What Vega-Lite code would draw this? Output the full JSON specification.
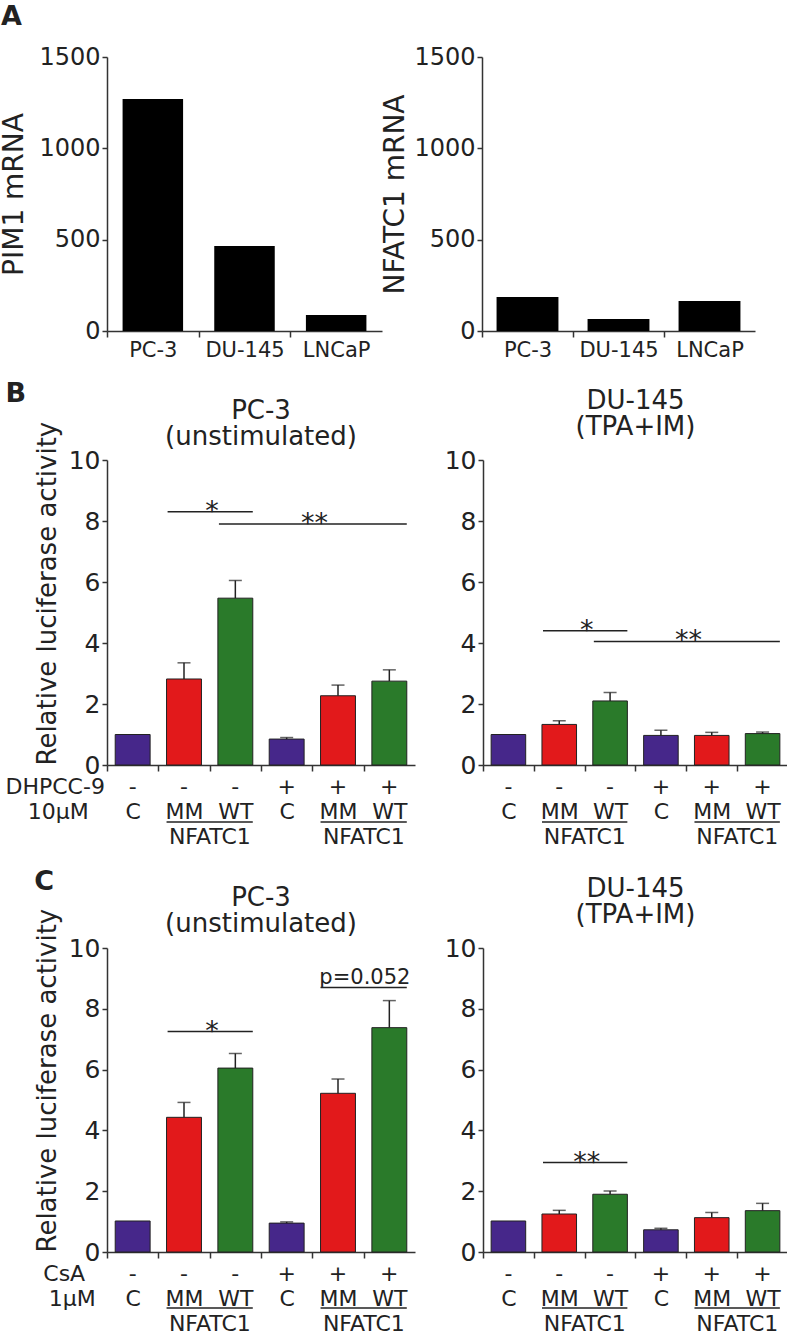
{
  "$schema": "https://vega.github.io/schema/vega-lite/v6.json",
  "background": "white",
  "padding": {"top": 3, "left": 0, "right": 0, "bottom": 0},
  "spacing": 20,
  "datasets": {
    "a1": [{"cell": "PC-3", "mrna": 1270}, {"cell": "DU-145", "mrna": 465}, {"cell": "LNCaP", "mrna": 88}],
    "a2": [{"cell": "PC-3", "mrna": 186}, {"cell": "DU-145", "mrna": 66}, {"cell": "LNCaP", "mrna": 164}],
    "bL": [
      {"id": "C-", "grp": "C", "sign": "-", "v": 1.0},
      {"id": "MM-", "grp": "MM", "sign": "-", "v": 2.82, "hi": 3.35},
      {"id": "WT-", "grp": "WT", "sign": "-", "v": 5.47, "hi": 6.05},
      {"id": "C+", "grp": "C", "sign": "+", "v": 0.85, "hi": 0.9},
      {"id": "MM+", "grp": "MM", "sign": "+", "v": 2.27, "hi": 2.62},
      {"id": "WT+", "grp": "WT", "sign": "+", "v": 2.75, "hi": 3.12}
    ],
    "bR": [
      {"id": "C-", "grp": "C", "sign": "-", "v": 1.0},
      {"id": "MM-", "grp": "MM", "sign": "-", "v": 1.33, "hi": 1.45},
      {"id": "WT-", "grp": "WT", "sign": "-", "v": 2.1, "hi": 2.38},
      {"id": "C+", "grp": "C", "sign": "+", "v": 0.97, "hi": 1.14},
      {"id": "MM+", "grp": "MM", "sign": "+", "v": 0.97, "hi": 1.07},
      {"id": "WT+", "grp": "WT", "sign": "+", "v": 1.03, "hi": 1.08}
    ],
    "cL": [
      {"id": "C-", "grp": "C", "sign": "-", "v": 1.02},
      {"id": "MM-", "grp": "MM", "sign": "-", "v": 4.43, "hi": 4.92},
      {"id": "WT-", "grp": "WT", "sign": "-", "v": 6.05, "hi": 6.53},
      {"id": "C+", "grp": "C", "sign": "+", "v": 0.95, "hi": 0.99},
      {"id": "MM+", "grp": "MM", "sign": "+", "v": 5.22, "hi": 5.69},
      {"id": "WT+", "grp": "WT", "sign": "+", "v": 7.38, "hi": 8.27}
    ],
    "cR": [
      {"id": "C-", "grp": "C", "sign": "-", "v": 1.02},
      {"id": "MM-", "grp": "MM", "sign": "-", "v": 1.25, "hi": 1.37},
      {"id": "WT-", "grp": "WT", "sign": "-", "v": 1.9, "hi": 2.01},
      {"id": "C+", "grp": "C", "sign": "+", "v": 0.73, "hi": 0.78},
      {"id": "MM+", "grp": "MM", "sign": "+", "v": 1.13, "hi": 1.3},
      {"id": "WT+", "grp": "WT", "sign": "+", "v": 1.36, "hi": 1.6}
    ],
    "bLs": [{"x1": "MM-", "x2": "WT-", "xc": "WT-", "y": 8.3, "t": "*"}, {"x1": "WT-", "x2": "WT+", "xc": "MM+", "y": 7.9, "t": "**"}],
    "bRs": [{"x1": "MM-", "x2": "WT-", "xc": "WT-", "y": 4.4, "t": "*"}, {"x1": "WT-", "x2": "WT+", "xc": "MM+", "y": 4.05, "t": "**"}],
    "cLs": [{"x1": "MM-", "x2": "WT-", "xc": "WT-", "y": 7.25, "t": "*"}],
    "cLp": [{"x1": "MM+", "x2": "WT+", "xc": "WT+", "y": 8.7, "t": "p=0.052"}],
    "cRs": [{"x1": "MM-", "x2": "WT-", "xc": "WT-", "y": 2.94, "t": "**"}],
    "grpLabel": [{"xc": "WT-", "t": "NFATC1"}, {"xc": "WT+", "t": "NFATC1"}],
    "grpLine": [{"x1": "MM-", "x2": "WT-"}, {"x1": "MM+", "x2": "WT+"}],
    "rowB": [{"xc": "C-", "t1": "DHPCC-9", "t2": "10μM"}],
    "rowC": [{"xc": "C-", "t1": "CsA", "t2": "1μM"}]
  },
  "vconcat": [
    {
      "title": {"text": "A", "anchor": "start", "frame": "bounds", "fontSize": 27, "fontWeight": "bold", "offset": 14},
      "spacing": -1,
      "hconcat": [
        {
          "width": 275, "height": 274,
          "data": {"name": "a1"},
          "mark": {"type": "bar", "color": "#000"},
          "encoding": {
            "x": {"field": "cell", "type": "nominal", "sort": null, "scale": {"paddingInner": 0.34, "paddingOuter": 0.17},
                  "axis": {"title": null, "labelAngle": 0, "labelFontSize": 21, "tickSize": 6, "labelPadding": 2, "tickOffset": -45.8, "labelOffset": 45.8}},
            "y": {"field": "mrna", "type": "quantitative", "scale": {"domain": [0, 1500]},
                  "axis": {"values": [0, 500, 1000, 1500], "format": "d", "title": "PIM1 mRNA", "titleFontSize": 28, "labelFontSize": 24, "tickSize": 5, "labelPadding": 2, "titlePadding": 10}}
          }
        },
        {
          "width": 273, "height": 274,
          "data": {"name": "a2"},
          "mark": {"type": "bar", "color": "#000"},
          "encoding": {
            "x": {"field": "cell", "type": "nominal", "sort": null, "scale": {"paddingInner": 0.32, "paddingOuter": 0.16},
                  "axis": {"title": null, "labelAngle": 0, "labelFontSize": 21, "tickSize": 6, "labelPadding": 2, "tickOffset": -45.5, "labelOffset": 45.5}},
            "y": {"field": "mrna", "type": "quantitative", "scale": {"domain": [0, 1500]},
                  "axis": {"values": [0, 500, 1000, 1500], "format": "d", "title": "NFATC1 mRNA", "titleFontSize": 28, "labelFontSize": 24, "tickSize": 5, "labelPadding": 2, "titlePadding": 4}}
          }
        }
      ]
    },
    {
      "title": {"text": "B", "anchor": "start", "frame": "bounds", "fontSize": 27, "fontWeight": "bold", "offset": 0, "dy": 20},
      "spacing": 29,
      "hconcat": [
        {
          "width": 308, "height": 305,
          "title": {"text": "PC-3", "subtitle": "(unstimulated)", "anchor": "middle", "fontSize": 26, "subtitleFontSize": 26, "subtitleColor": "#222", "subtitleFont": "DejaVu Sans", "subtitlePadding": 0, "offset": -29},
          "layer": [
            {
              "data": {"name": "bL"},
              "mark": {"type": "bar", "stroke": "#222", "strokeWidth": 1},
              "encoding": {
                "x": {"field": "id", "type": "nominal", "sort": null, "scale": {"domain": ["C-", "MM-", "WT-", "C+", "MM+", "WT+"], "paddingInner": 0.32, "paddingOuter": 0.16},
                      "axis": {"title": null, "labelAngle": 0, "labelFontSize": 22, "labelPadding": 30, "tickSize": 6, "tickOffset": -25.67, "labelOffset": 25.67,
                               "labelExpr": "substring(datum.value, 0, length(datum.value) - 1)"}},
                "y": {"field": "v", "type": "quantitative", "scale": {"domain": [0, 10]},
                      "axis": {"values": [0, 2, 4, 6, 8, 10], "title": "Relative luciferase activity", "titleFontSize": 26, "titleAnchor": "start", "titlePadding": 8, "labelFontSize": 25, "tickSize": 5, "labelPadding": 2}},
                "color": {"field": "grp", "type": "nominal", "scale": {"domain": ["C", "MM", "WT"], "range": ["#46278A", "#E2191B", "#2A7A2A"]}, "legend": null}
              }
            },
            {
              "data": {"name": "bL"},
              "transform": [{"filter": "isValid(datum.hi)"}],
              "mark": {"type": "rule", "color": "#222", "strokeWidth": 1.5},
              "encoding": {"x": {"field": "id", "type": "nominal"}, "y": {"field": "v", "type": "quantitative"}, "y2": {"field": "hi"}}
            },
            {
              "data": {"name": "bL"},
              "transform": [{"filter": "isValid(datum.hi)"}],
              "mark": {"type": "tick", "color": "#222", "thickness": 1.5, "size": 13},
              "encoding": {"x": {"field": "id", "type": "nominal"}, "y": {"field": "hi", "type": "quantitative"}}
            },
            {
              "data": {"name": "bL"},
              "mark": {"type": "text", "fontSize": 22, "baseline": "middle", "dy": 22},
              "encoding": {"x": {"field": "id", "type": "nominal"}, "y": {"datum": 0}, "text": {"field": "sign"}}
            },
            {
              "data": {"name": "bLs"},
              "mark": {"type": "rule", "color": "#222", "strokeWidth": 1.5},
              "encoding": {"x": {"field": "x1", "type": "nominal", "bandPosition": 0.03}, "x2": {"field": "x2", "bandPosition": 1}, "y": {"field": "y", "type": "quantitative"}}
            },
            {
              "data": {"name": "bLs"},
              "mark": {"type": "text", "fontSize": 27, "baseline": "alphabetic", "dy": 8, "dx": -6},
              "encoding": {"x": {"field": "xc", "type": "nominal", "bandPosition": 0}, "y": {"field": "y", "type": "quantitative"}, "text": {"field": "t"}}
            },
            {
              "data": {"name": "grpLabel"},
              "mark": {"type": "text", "fontSize": 22, "baseline": "middle", "dy": 72, "dx": -8},
              "encoding": {"x": {"field": "xc", "type": "nominal", "bandPosition": 0}, "y": {"datum": 0}, "text": {"field": "t"}}
            },
            {
              "data": {"name": "grpLine"},
              "mark": {"type": "rule", "color": "#222", "strokeWidth": 1.5, "yOffset": 57},
              "encoding": {"x": {"field": "x1", "type": "nominal", "bandPosition": 0}, "x2": {"field": "x2", "bandPosition": 1}, "y": {"datum": 0}}
            },
            {
              "data": {"name": "rowB"},
              "mark": {"type": "text", "fontSize": 22, "baseline": "middle", "dy": 22, "dx": -60},
              "encoding": {"x": {"field": "xc", "type": "nominal", "bandPosition": 0}, "y": {"datum": 0}, "text": {"field": "t1"}}
            },
            {
              "data": {"name": "rowB"},
              "mark": {"type": "text", "fontSize": 22, "baseline": "middle", "dy": 47, "dx": -57},
              "encoding": {"x": {"field": "xc", "type": "nominal", "bandPosition": 0}, "y": {"datum": 0}, "text": {"field": "t2"}}
            }
          ]
        },
        {
          "width": 305, "height": 305,
          "title": {"text": "DU-145", "subtitle": "(TPA+IM)", "anchor": "middle", "fontSize": 26, "subtitleFontSize": 26, "subtitleColor": "#222", "subtitleFont": "DejaVu Sans", "subtitlePadding": 0, "offset": 8},
          "layer": [
            {
              "data": {"name": "bR"},
              "mark": {"type": "bar", "stroke": "#222", "strokeWidth": 1},
              "encoding": {
                "x": {"field": "id", "type": "nominal", "sort": null, "scale": {"domain": ["C-", "MM-", "WT-", "C+", "MM+", "WT+"], "paddingInner": 0.32, "paddingOuter": 0.16},
                      "axis": {"title": null, "labelAngle": 0, "labelFontSize": 22, "labelPadding": 30, "tickSize": 6, "tickOffset": -25.42, "labelOffset": 25.42,
                               "labelExpr": "substring(datum.value, 0, length(datum.value) - 1)"}},
                "y": {"field": "v", "type": "quantitative", "scale": {"domain": [0, 10]},
                      "axis": {"values": [0, 2, 4, 6, 8, 10], "title": null, "labelFontSize": 25, "tickSize": 5, "labelPadding": 2}},
                "color": {"field": "grp", "type": "nominal", "scale": {"domain": ["C", "MM", "WT"], "range": ["#46278A", "#E2191B", "#2A7A2A"]}, "legend": null}
              }
            },
            {
              "data": {"name": "bR"},
              "transform": [{"filter": "isValid(datum.hi)"}],
              "mark": {"type": "rule", "color": "#222", "strokeWidth": 1.5},
              "encoding": {"x": {"field": "id", "type": "nominal"}, "y": {"field": "v", "type": "quantitative"}, "y2": {"field": "hi"}}
            },
            {
              "data": {"name": "bR"},
              "transform": [{"filter": "isValid(datum.hi)"}],
              "mark": {"type": "tick", "color": "#222", "thickness": 1.5, "size": 13},
              "encoding": {"x": {"field": "id", "type": "nominal"}, "y": {"field": "hi", "type": "quantitative"}}
            },
            {
              "data": {"name": "bR"},
              "mark": {"type": "text", "fontSize": 22, "baseline": "middle", "dy": 22},
              "encoding": {"x": {"field": "id", "type": "nominal"}, "y": {"datum": 0}, "text": {"field": "sign"}}
            },
            {
              "data": {"name": "bRs"},
              "mark": {"type": "rule", "color": "#222", "strokeWidth": 1.5},
              "encoding": {"x": {"field": "x1", "type": "nominal", "bandPosition": 0.03}, "x2": {"field": "x2", "bandPosition": 1}, "y": {"field": "y", "type": "quantitative"}}
            },
            {
              "data": {"name": "bRs"},
              "mark": {"type": "text", "fontSize": 27, "baseline": "alphabetic", "dy": 8, "dx": -6},
              "encoding": {"x": {"field": "xc", "type": "nominal", "bandPosition": 0}, "y": {"field": "y", "type": "quantitative"}, "text": {"field": "t"}}
            },
            {
              "data": {"name": "grpLabel"},
              "mark": {"type": "text", "fontSize": 22, "baseline": "middle", "dy": 72, "dx": -8},
              "encoding": {"x": {"field": "xc", "type": "nominal", "bandPosition": 0}, "y": {"datum": 0}, "text": {"field": "t"}}
            },
            {
              "data": {"name": "grpLine"},
              "mark": {"type": "rule", "color": "#222", "strokeWidth": 1.5, "yOffset": 57},
              "encoding": {"x": {"field": "x1", "type": "nominal", "bandPosition": 0}, "x2": {"field": "x2", "bandPosition": 1}, "y": {"datum": 0}}
            }
          ]
        }
      ]
    },
    {
      "title": {"text": "C", "anchor": "start", "frame": "bounds", "fontSize": 27, "fontWeight": "bold", "offset": 0, "dy": 20},
      "spacing": 29,
      "hconcat": [
        {
          "width": 308, "height": 304,
          "title": {"text": "PC-3", "subtitle": "(unstimulated)", "anchor": "middle", "fontSize": 26, "subtitleFontSize": 26, "subtitleColor": "#222", "subtitleFont": "DejaVu Sans", "subtitlePadding": 0, "offset": -29},
          "layer": [
            {
              "data": {"name": "cL"},
              "mark": {"type": "bar", "stroke": "#222", "strokeWidth": 1},
              "encoding": {
                "x": {"field": "id", "type": "nominal", "sort": null, "scale": {"domain": ["C-", "MM-", "WT-", "C+", "MM+", "WT+"], "paddingInner": 0.32, "paddingOuter": 0.16},
                      "axis": {"title": null, "labelAngle": 0, "labelFontSize": 22, "labelPadding": 30, "tickSize": 6, "tickOffset": -25.67, "labelOffset": 25.67,
                               "labelExpr": "substring(datum.value, 0, length(datum.value) - 1)"}},
                "y": {"field": "v", "type": "quantitative", "scale": {"domain": [0, 10]},
                      "axis": {"values": [0, 2, 4, 6, 8, 10], "title": "Relative luciferase activity", "titleFontSize": 26, "titleAnchor": "start", "titlePadding": 8, "labelFontSize": 25, "tickSize": 5, "labelPadding": 2}},
                "color": {"field": "grp", "type": "nominal", "scale": {"domain": ["C", "MM", "WT"], "range": ["#46278A", "#E2191B", "#2A7A2A"]}, "legend": null}
              }
            },
            {
              "data": {"name": "cL"},
              "transform": [{"filter": "isValid(datum.hi)"}],
              "mark": {"type": "rule", "color": "#222", "strokeWidth": 1.5},
              "encoding": {"x": {"field": "id", "type": "nominal"}, "y": {"field": "v", "type": "quantitative"}, "y2": {"field": "hi"}}
            },
            {
              "data": {"name": "cL"},
              "transform": [{"filter": "isValid(datum.hi)"}],
              "mark": {"type": "tick", "color": "#222", "thickness": 1.5, "size": 13},
              "encoding": {"x": {"field": "id", "type": "nominal"}, "y": {"field": "hi", "type": "quantitative"}}
            },
            {
              "data": {"name": "cL"},
              "mark": {"type": "text", "fontSize": 22, "baseline": "middle", "dy": 22},
              "encoding": {"x": {"field": "id", "type": "nominal"}, "y": {"datum": 0}, "text": {"field": "sign"}}
            },
            {
              "data": {"name": "cLs"},
              "mark": {"type": "rule", "color": "#222", "strokeWidth": 1.5},
              "encoding": {"x": {"field": "x1", "type": "nominal", "bandPosition": 0.03}, "x2": {"field": "x2", "bandPosition": 1}, "y": {"field": "y", "type": "quantitative"}}
            },
            {
              "data": {"name": "cLs"},
              "mark": {"type": "text", "fontSize": 27, "baseline": "alphabetic", "dy": 8, "dx": -6},
              "encoding": {"x": {"field": "xc", "type": "nominal", "bandPosition": 0}, "y": {"field": "y", "type": "quantitative"}, "text": {"field": "t"}}
            },
            {
              "data": {"name": "cLp"},
              "mark": {"type": "rule", "color": "#222", "strokeWidth": 1.5},
              "encoding": {"x": {"field": "x1", "type": "nominal", "bandPosition": 0}, "x2": {"field": "x2", "bandPosition": 1}, "y": {"field": "y", "type": "quantitative"}}
            },
            {
              "data": {"name": "cLp"},
              "mark": {"type": "text", "fontSize": 21, "baseline": "alphabetic", "dy": -4, "dx": -7},
              "encoding": {"x": {"field": "xc", "type": "nominal", "bandPosition": 0}, "y": {"field": "y", "type": "quantitative"}, "text": {"field": "t"}}
            },
            {
              "data": {"name": "grpLabel"},
              "mark": {"type": "text", "fontSize": 22, "baseline": "middle", "dy": 72, "dx": -8},
              "encoding": {"x": {"field": "xc", "type": "nominal", "bandPosition": 0}, "y": {"datum": 0}, "text": {"field": "t"}}
            },
            {
              "data": {"name": "grpLine"},
              "mark": {"type": "rule", "color": "#222", "strokeWidth": 1.5, "yOffset": 56},
              "encoding": {"x": {"field": "x1", "type": "nominal", "bandPosition": 0}, "x2": {"field": "x2", "bandPosition": 1}, "y": {"datum": 0}}
            },
            {
              "data": {"name": "rowC"},
              "mark": {"type": "text", "fontSize": 22, "baseline": "middle", "dy": 22, "dx": -51},
              "encoding": {"x": {"field": "xc", "type": "nominal", "bandPosition": 0}, "y": {"datum": 0}, "text": {"field": "t1"}}
            },
            {
              "data": {"name": "rowC"},
              "mark": {"type": "text", "fontSize": 22, "baseline": "middle", "dy": 47, "dx": -43},
              "encoding": {"x": {"field": "xc", "type": "nominal", "bandPosition": 0}, "y": {"datum": 0}, "text": {"field": "t2"}}
            }
          ]
        },
        {
          "width": 305, "height": 304,
          "title": {"text": "DU-145", "subtitle": "(TPA+IM)", "anchor": "middle", "fontSize": 26, "subtitleFontSize": 26, "subtitleColor": "#222", "subtitleFont": "DejaVu Sans", "subtitlePadding": 0, "offset": 8},
          "layer": [
            {
              "data": {"name": "cR"},
              "mark": {"type": "bar", "stroke": "#222", "strokeWidth": 1},
              "encoding": {
                "x": {"field": "id", "type": "nominal", "sort": null, "scale": {"domain": ["C-", "MM-", "WT-", "C+", "MM+", "WT+"], "paddingInner": 0.32, "paddingOuter": 0.16},
                      "axis": {"title": null, "labelAngle": 0, "labelFontSize": 22, "labelPadding": 30, "tickSize": 6, "tickOffset": -25.42, "labelOffset": 25.42,
                               "labelExpr": "substring(datum.value, 0, length(datum.value) - 1)"}},
                "y": {"field": "v", "type": "quantitative", "scale": {"domain": [0, 10]},
                      "axis": {"values": [0, 2, 4, 6, 8, 10], "title": null, "labelFontSize": 25, "tickSize": 5, "labelPadding": 2}},
                "color": {"field": "grp", "type": "nominal", "scale": {"domain": ["C", "MM", "WT"], "range": ["#46278A", "#E2191B", "#2A7A2A"]}, "legend": null}
              }
            },
            {
              "data": {"name": "cR"},
              "transform": [{"filter": "isValid(datum.hi)"}],
              "mark": {"type": "rule", "color": "#222", "strokeWidth": 1.5},
              "encoding": {"x": {"field": "id", "type": "nominal"}, "y": {"field": "v", "type": "quantitative"}, "y2": {"field": "hi"}}
            },
            {
              "data": {"name": "cR"},
              "transform": [{"filter": "isValid(datum.hi)"}],
              "mark": {"type": "tick", "color": "#222", "thickness": 1.5, "size": 13},
              "encoding": {"x": {"field": "id", "type": "nominal"}, "y": {"field": "hi", "type": "quantitative"}}
            },
            {
              "data": {"name": "cR"},
              "mark": {"type": "text", "fontSize": 22, "baseline": "middle", "dy": 22},
              "encoding": {"x": {"field": "id", "type": "nominal"}, "y": {"datum": 0}, "text": {"field": "sign"}}
            },
            {
              "data": {"name": "cRs"},
              "mark": {"type": "rule", "color": "#222", "strokeWidth": 1.5},
              "encoding": {"x": {"field": "x1", "type": "nominal", "bandPosition": 0.03}, "x2": {"field": "x2", "bandPosition": 1}, "y": {"field": "y", "type": "quantitative"}}
            },
            {
              "data": {"name": "cRs"},
              "mark": {"type": "text", "fontSize": 27, "baseline": "alphabetic", "dy": 8, "dx": -6},
              "encoding": {"x": {"field": "xc", "type": "nominal", "bandPosition": 0}, "y": {"field": "y", "type": "quantitative"}, "text": {"field": "t"}}
            },
            {
              "data": {"name": "grpLabel"},
              "mark": {"type": "text", "fontSize": 22, "baseline": "middle", "dy": 72, "dx": -8},
              "encoding": {"x": {"field": "xc", "type": "nominal", "bandPosition": 0}, "y": {"datum": 0}, "text": {"field": "t"}}
            },
            {
              "data": {"name": "grpLine"},
              "mark": {"type": "rule", "color": "#222", "strokeWidth": 1.5, "yOffset": 56},
              "encoding": {"x": {"field": "x1", "type": "nominal", "bandPosition": 0}, "x2": {"field": "x2", "bandPosition": 1}, "y": {"datum": 0}}
            }
          ]
        }
      ]
    }
  ],
  "config": {
    "font": "DejaVu Sans",
    "view": {"stroke": null},
    "axis": {"domainColor": "#333", "domainWidth": 1.5, "tickColor": "#333", "tickWidth": 1.5, "grid": false, "labelColor": "#222", "titleColor": "#222", "titleFontWeight": "normal", "labelFont": "DejaVu Sans", "titleFont": "DejaVu Sans"},
    "title": {"font": "DejaVu Sans", "fontWeight": "normal", "color": "#222"},
    "text": {"font": "DejaVu Sans", "color": "#222"}
  }
}
